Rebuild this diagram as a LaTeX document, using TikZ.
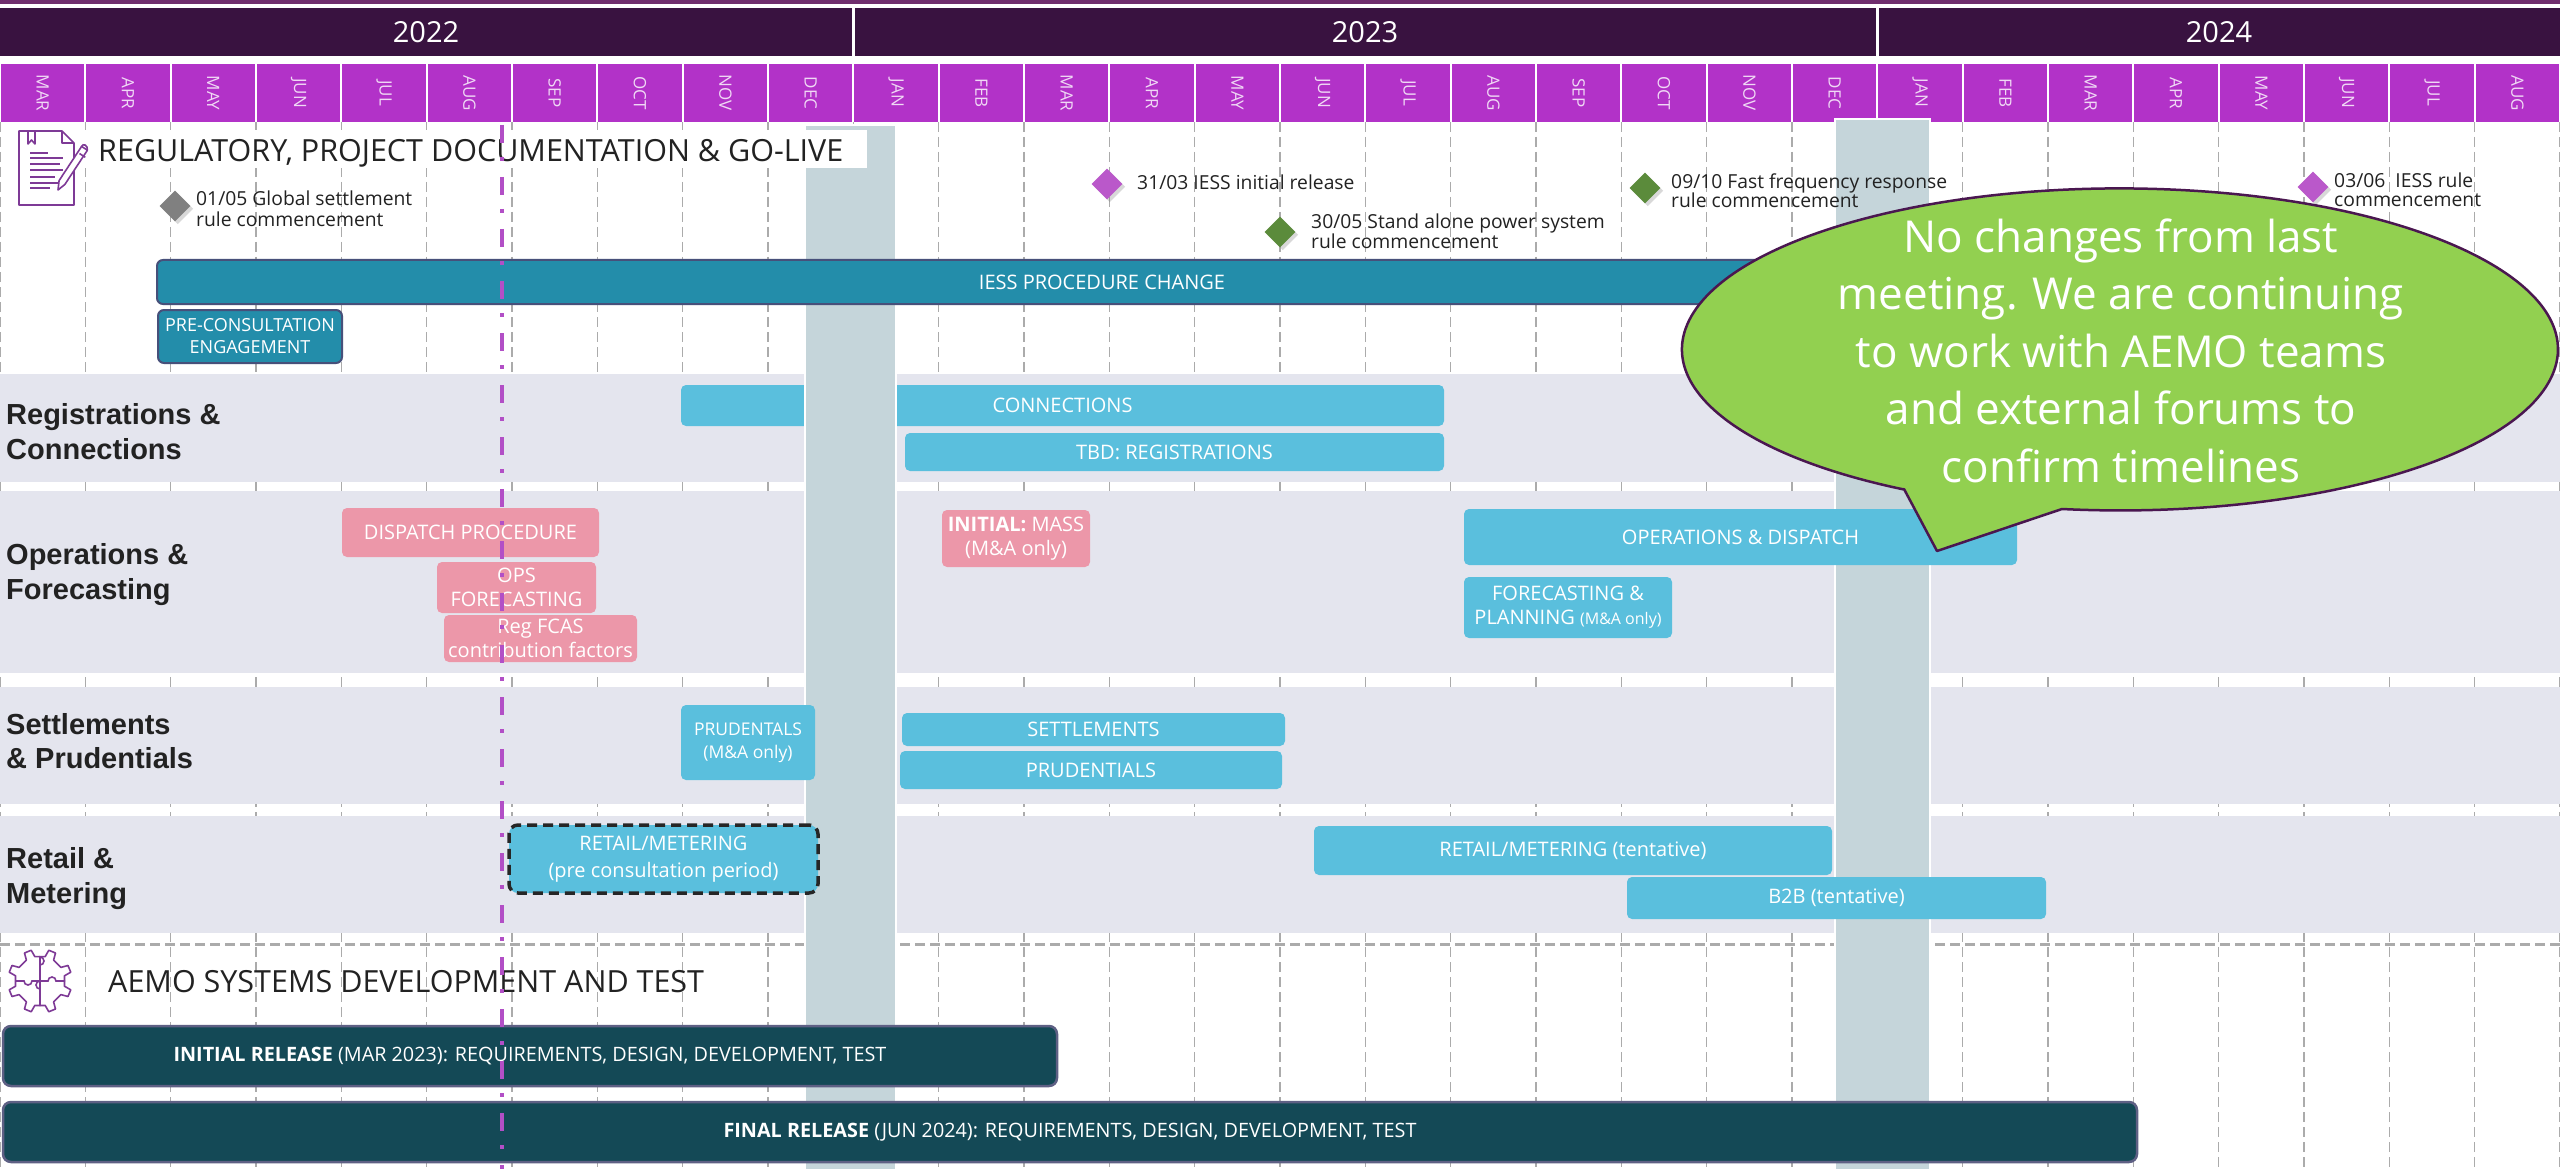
\documentclass[tikz,border=0pt]{standalone}
\usepackage{fontspec}
\setmainfont{Open Sans}
\newfontfamily\rowfont{Liberation Sans}
\usetikzlibrary{shapes.geometric,shadows}
\definecolor{topline}{HTML}{702E6E}
\definecolor{yearbg}{HTML}{391240}
\definecolor{monthbg}{HTML}{B232C8}
\definecolor{monthtx}{HTML}{F0D9F5}
\definecolor{gridc}{HTML}{ABABAB}
\definecolor{bandc}{HTML}{E4E5EE}
\definecolor{colc}{HTML}{C5D5DA}
\definecolor{tealc}{HTML}{238DAA}
\definecolor{tealbd}{HTML}{47507A}
\definecolor{cyanc}{HTML}{5ABFDD}
\definecolor{pinkc}{HTML}{EC97A9}
\definecolor{darkc}{HTML}{144956}
\definecolor{darkbd}{HTML}{5E6084}
\definecolor{bubc}{HTML}{92D050}
\definecolor{bubbd}{HTML}{4A1750}
\definecolor{iconc}{HTML}{7E3A96}
\definecolor{dashc}{HTML}{B24FC6}
\definecolor{txtc}{HTML}{222222}
\definecolor{msgray}{HTML}{808080}
\definecolor{mspink}{HTML}{BA58CA}
\definecolor{msgreen}{HTML}{5B8B3B}
\newcommand\fsz[2]{\fontsize{#1}{#2}\selectfont}
\newcommand\gantt[7]{\node[#1, minimum width={(#4-#2)*1pt}, minimum height={(#5-#3)*1pt}] (#6) at ({(#2+#4)/2},{(#3+#5)/2}) {#7};}
\tikzset{
 gbox/.style={rounded corners=5pt, inner sep=0pt, align=center, text=white, font=\fsz{20}{24}},
 cyanbox/.style={gbox, fill=cyanc},
 pinkbox/.style={gbox, fill=pinkc},
 tealbox/.style={gbox, fill=tealc, draw=tealbd, line width=2pt, rounded corners=6pt},
 darkbox/.style={gbox, fill=darkc, draw=darkbd, line width=2.5pt, rounded corners=8pt, font=\fsz{19.8}{23}},
 msdia/.style={diamond, minimum width=31pt, minimum height=31pt, inner sep=0pt, drop shadow={opacity=0.3}},
 mstext/.style={anchor=base west, inner sep=0pt, text=txtc, font=\fsz{19.3}{21}},
 rowlab/.style={anchor=base west, inner sep=0pt, text=txtc, font=\rowfont\bfseries\fsz{29}{35}},
 sectitle/.style={anchor=base west, inner sep=0pt, text=txtc, font=\fsz{30.5}{36}},
 gridline/.style={draw=gridc, line width=1.2pt, dash pattern=on 10pt off 5pt},
 iconline/.style={draw=iconc, line width=1.6pt},
 yearlab/.style={text=white, font=\fsz{29}{34}},
 monlab/.style={rotate=-90, text=monthtx, font=\fsz{17}{19}, inner sep=0pt},
}
\begin{document}
\begin{tikzpicture}[x=1pt,y=-1pt]
\useasboundingbox (0,0) rectangle (2560,1169);
\fill[white] (0,0) rectangle (2560,1169);
% header
\fill[topline] (0,0) rectangle (2560,4);
\fill[yearbg] (0,8) rectangle (852,56);
\fill[yearbg] (855,8) rectangle (1876,56);
\fill[yearbg] (1879,8) rectangle (2560,56);
\node[yearlab] (y2022) at (426,32) {2022};
\node[yearlab] (y2023) at (1365,32) {2023};
\node[yearlab] (y2024) at (2219,32) {2024};
\foreach \m [count=\i from 0] in {MAR,APR,MAY,JUN,JUL,AUG,SEP,OCT,NOV,DEC,JAN,FEB,MAR,APR,MAY,JUN,JUL,AUG,SEP,OCT,NOV,DEC,JAN,FEB,MAR,APR,MAY,JUN,JUL,AUG}{
  \fill[monthbg] ({\i*85.33333+1},64) rectangle ({(\i+1)*85.33333-1},122);
  \node[monlab] (mon\i) at ({(\i+0.5)*85.33333},93) {\m};
}
% grid
\foreach \i in {0,...,30} \draw[gridline] ({\i*85.33333},122) -- ({\i*85.33333},1169);
% bands
\fill[bandc] (0,374) rectangle (2560,482);
\fill[bandc] (0,491) rectangle (2560,673);
\fill[bandc] (0,687) rectangle (2560,804);
\fill[bandc] (0,816) rectangle (2560,933);
\draw[draw=gridc, line width=3pt, dash pattern=on 10pt off 5pt] (0,944) -- (2560,944);
% bar behind the freeze column
\gantt{cyanbox}{681}{385}{1444}{426}{conn}{CONNECTIONS}
% freeze columns
\draw[fill=colc, draw=white, line width=2pt] (805,125) rectangle (896,1172);
\draw[fill=colc, draw=white, line width=2pt] (1835,119) rectangle (1930,1172);
% regulatory title
\fill[white] (85,130) rectangle (867,168);
\node[sectitle] (regtitle) at (98,162) {REGULATORY, PROJECT DOCUMENTATION \& GO-LIVE};
% document icon
\draw[iconline, line join=round] (19,131) -- (62,131) -- (74,143) -- (74,205) -- (19,205) -- cycle;
\draw[iconline, line join=round] (62,131) -- (62,143) -- (74,143);
\draw[iconline, line join=round] (28,131) -- (28,144) -- (31.5,140) -- (35,144) -- (35,131);
\draw[iconline] (30,153) -- (48,153);
\draw[iconline] (30,158) -- (63,158);
\draw[iconline] (30,164) -- (60,164);
\draw[iconline] (30,170) -- (63,170);
\draw[iconline] (30,177) -- (55,177);
\draw[iconline] (30,183) -- (58,183);
\draw[iconline] (30,188) -- (50,188);
\filldraw[iconline, fill=white, line join=round] (87.4,150.2) -- (64.9,184.4) -- (58,190) -- (59.1,180.6) -- (81.6,146.4) -- cycle;
\draw[iconline] (81.6,146.4) .. controls (83,143) and (88,145) .. (87.4,150.2);
\draw[iconline] (79.5,153.5) -- (85.3,157.3);
% milestones
\node[msdia, fill=msgray] (ms1) at (175,206) {};
\node[mstext] (ms1a) at (196,206) {01/05 Global settlement};
\node[mstext] (ms1b) at (196,227) {rule commencement};
\node[msdia, fill=mspink] (ms2) at (1107,184) {};
\node[mstext] (ms2a) at (1137,190) {31/03 IESS initial release};
\node[msdia, fill=msgreen] (ms3) at (1280,232) {};
\node[mstext] (ms3a) at (1311,229) {30/05 Stand alone power system};
\node[mstext] (ms3b) at (1311,249) {rule commencement};
\node[msdia, fill=msgreen] (ms4) at (1645,188) {};
\node[mstext] (ms4a) at (1671,189) {09/10 Fast frequency response};
\node[mstext] (ms4b) at (1671,208) {rule commencement};
\node[msdia, fill=mspink] (ms5) at (2313,187) {};
\node[mstext] (ms5a) at (2334,188) {03/06\ \ IESS rule};
\node[mstext] (ms5b) at (2334,207) {commencement};
% regulatory bars
\gantt{tealbox}{157}{260}{2047}{304}{iess}{IESS PROCEDURE CHANGE}
\gantt{tealbox, font=\fsz{18}{22}}{158}{310}{342}{363}{precon}{PRE-CONSULTATION\\ENGAGEMENT}
% row labels
\node[rowlab] (r1a) at (6,424) {Registrations \&};
\node[rowlab] (r1b) at (6,459) {Connections};
\node[rowlab] (r2a) at (6,564) {Operations \&};
\node[rowlab] (r2b) at (6,599) {Forecasting};
\node[rowlab] (r3a) at (6,734) {Settlements};
\node[rowlab] (r3b) at (6,768) {\& Prudentials};
\node[rowlab] (r4a) at (6,868) {Retail \&};
\node[rowlab] (r4b) at (6,903) {Metering};
% registrations
\gantt{cyanbox}{905}{433}{1444}{471}{tbdreg}{TBD: REGISTRATIONS}
% operations
\gantt{pinkbox}{342}{508}{599}{557}{dispproc}{DISPATCH PROCEDURE}
\gantt{pinkbox}{437}{562}{596}{613}{opsfc}{OPS\\FORECASTING}
\gantt{pinkbox}{444}{615}{637}{662}{regfcas}{Reg FCAS\\contribution factors}
\gantt{pinkbox}{942}{510}{1090}{567}{mass}{\textbf{INITIAL:} MASS\\(M\&A only)}
\gantt{cyanbox}{1464}{509}{2017}{565}{opsdisp}{OPERATIONS \& DISPATCH}
\gantt{cyanbox}{1464}{577}{1672}{638}{fcplan}{FORECASTING \&\\PLANNING {\fsz{16}{24}(M\&A only)}}
% settlements
\gantt{cyanbox, font=\fsz{17.5}{23}}{681}{705}{815}{780}{prudma}{PRUDENTALS\\(M\&A only)}
\gantt{cyanbox}{902}{713}{1285}{746}{settl}{SETTLEMENTS}
\gantt{cyanbox}{900}{751}{1282}{789}{prud}{PRUDENTIALS}
% retail
\gantt{cyanbox, draw=black!85, line width=3.5pt, dash pattern=on 10pt off 6pt, rounded corners=9pt, font=\fsz{20}{27}}{509}{825}{818}{893}{retpre}{RETAIL/METERING\\(pre consultation period)}
\gantt{cyanbox}{1314}{826}{1832}{875}{rettent}{RETAIL/METERING (tentative)}
\gantt{cyanbox}{1627}{877}{2046}{919}{btob}{B2B (tentative)}
% AEMO systems section
\begin{scope}[shift={(40,981)}]
\draw[iconline, line join=round] (12:25) \foreach \k in {0,45,...,315}{ -- (\k+12:25) -- (\k+16:32) -- (\k+29:32) -- (\k+33:25)} -- cycle;
\draw[iconline] (-25,0) -- (-16,0) arc[start angle=180, end angle=0, radius=4] -- (8,0) arc[start angle=180, end angle=360, radius=4] -- (25,0);
\draw[iconline] (0,-25) -- (0,-16) arc[start angle=90, end angle=-90, radius=4] -- (0,8) arc[start angle=90, end angle=270, radius=4] -- (0,25);
\end{scope}
\node[sectitle] (aemotitle) at (108,992) {AEMO SYSTEMS DEVELOPMENT AND TEST};
\gantt{darkbox}{3}{1026}{1057}{1086}{initrel}{\textbf{INITIAL RELEASE} (MAR 2023): REQUIREMENTS, DESIGN, DEVELOPMENT, TEST}
\gantt{darkbox}{3}{1102}{2137}{1162}{finrel}{\textbf{FINAL RELEASE} (JUN 2024): REQUIREMENTS, DESIGN, DEVELOPMENT, TEST}
% today line
\draw[dashc, line width=4pt, dash pattern=on 18pt off 14pt on 4pt off 16pt] (502,125) -- (502,1169);
% callout
\filldraw[fill=bubc, draw=bubbd, line width=2.5pt, line join=round] (1904,489) -- (1937,551) -- (2062,509) arc[start angle=97.6, end angle=-240.5, x radius=438, y radius=161] -- cycle;
\node[text=white, align=center, font=\fsz{44}{57.5}, inner sep=0pt] (bubtext) at (2121,350.5) {No changes from last\\meeting. We are continuing\\to work with AEMO teams\\and external forums to\\confirm timelines};
\end{tikzpicture}
\end{document}
